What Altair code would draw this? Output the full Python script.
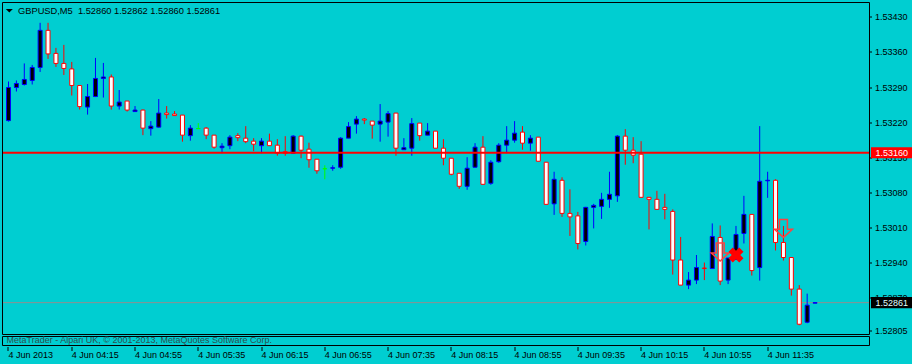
import altair as alt
import pandas as pd

# ---------------- data (GBPUSD M5, 4 Jun 2013, 03:35 .. 12:05) ----------------
bar_index = list(range(103))
opens = [1.53224, 1.53290, 1.53296, 1.53304, 1.53330, 1.53404, 1.53358, 1.53338, 1.53327, 1.53294,
         1.53251, 1.53272, 1.53308, 1.53311, 1.53253, 1.53263, 1.53242, 1.53245, 1.53208, 1.53211,
         1.53239, 1.53237, 1.53235, 1.53194, 1.53208, 1.53209, 1.53195, 1.53170, 1.53174, 1.53194,
         1.53189, 1.53183, 1.53174, 1.53183, 1.53175, 1.53162, 1.53159, 1.53193, 1.53167, 1.53147,
         1.53128, 1.53129, 1.53131, 1.53189, 1.53217, 1.53227, 1.53223, 1.53217, 1.53221, 1.53239,
         1.53166, 1.53169, 1.53219, 1.53195, 1.53203, 1.53169, 1.53149, 1.53119, 1.53093, 1.53131,
         1.53171, 1.53099, 1.53142, 1.53175, 1.53185, 1.53201, 1.53179, 1.53191, 1.53141, 1.53058,
         1.53105, 1.53039, 1.53034, 1.52983, 1.53051, 1.53053, 1.53067, 1.53074, 1.53193, 1.53165,
         1.53157, 1.53071, 1.53067, 1.53051, 1.53043, 1.52946, 1.52896, 1.52906, 1.52930, 1.52929,
         1.52991, 1.52906, 1.52947, 1.52999, 1.53037, 1.52931, 1.53104, 1.53105, 1.52981, 1.52951,
         1.52888, 1.52822, 1.52860]
highs = [1.53302, 1.53304, 1.53338, 1.53335, 1.53419, 1.53419, 1.53369, 1.53375, 1.53341, 1.53295,
         1.53297, 1.53349, 1.53339, 1.53316, 1.53285, 1.53263, 1.53253, 1.53246, 1.53223, 1.53267,
         1.53253, 1.53243, 1.53235, 1.53215, 1.53219, 1.53211, 1.53195, 1.53179, 1.53195, 1.53199,
         1.53213, 1.53189, 1.53189, 1.53198, 1.53187, 1.53193, 1.53195, 1.53194, 1.53180, 1.53147,
         1.53135, 1.53135, 1.53191, 1.53221, 1.53233, 1.53229, 1.53223, 1.53257, 1.53243, 1.53239,
         1.53189, 1.53229, 1.53219, 1.53219, 1.53203, 1.53187, 1.53149, 1.53119, 1.53151, 1.53179,
         1.53193, 1.53145, 1.53179, 1.53213, 1.53223, 1.53213, 1.53195, 1.53191, 1.53141, 1.53122,
         1.53111, 1.53087, 1.53042, 1.53052, 1.53058, 1.53080, 1.53122, 1.53195, 1.53207, 1.53191,
         1.53183, 1.53071, 1.53084, 1.53078, 1.53047, 1.52992, 1.52922, 1.52956, 1.52941, 1.53019,
         1.53015, 1.52950, 1.53014, 1.53074, 1.53037, 1.53213, 1.53122, 1.53107, 1.53014, 1.52951,
         1.52896, 1.52879, 1.52862]
lows = [1.53222, 1.53282, 1.53294, 1.53296, 1.53321, 1.53347, 1.53331, 1.53315, 1.53274, 1.53246,
        1.53236, 1.53271, 1.53270, 1.53246, 1.53246, 1.53242, 1.53242, 1.53195, 1.53194, 1.53210,
        1.53228, 1.53234, 1.53182, 1.53184, 1.53208, 1.53187, 1.53168, 1.53159, 1.53167, 1.53183,
        1.53179, 1.53163, 1.53159, 1.53174, 1.53154, 1.53154, 1.53158, 1.53149, 1.53130, 1.53118,
        1.53107, 1.53124, 1.53128, 1.53189, 1.53198, 1.53217, 1.53188, 1.53182, 1.53192, 1.53154,
        1.53166, 1.53154, 1.53184, 1.53195, 1.53169, 1.53135, 1.53115, 1.53088, 1.53086, 1.53130,
        1.53097, 1.53096, 1.53140, 1.53159, 1.53180, 1.53166, 1.53164, 1.53143, 1.53057, 1.53036,
        1.53032, 1.52994, 1.52967, 1.52975, 1.53009, 1.53028, 1.53050, 1.53062, 1.53136, 1.53139,
        1.53071, 1.53007, 1.53047, 1.53027, 1.52917, 1.52896, 1.52888, 1.52898, 1.52906, 1.52929,
        1.52896, 1.52898, 1.52946, 1.52979, 1.52915, 1.52905, 1.53070, 1.52965, 1.52945, 1.52875,
        1.52816, 1.52820, 1.52860]
closes = [1.53290, 1.53298, 1.53306, 1.53330, 1.53404, 1.53357, 1.53338, 1.53328, 1.53294, 1.53252,
          1.53272, 1.53308, 1.53311, 1.53253, 1.53261, 1.53245, 1.53245, 1.53209, 1.53213, 1.53239,
          1.53236, 1.53234, 1.53195, 1.53209, 1.53208, 1.53195, 1.53171, 1.53173, 1.53191, 1.53190,
          1.53182, 1.53177, 1.53183, 1.53174, 1.53159, 1.53159, 1.53193, 1.53165, 1.53146, 1.53124,
          1.53128, 1.53130, 1.53189, 1.53212, 1.53227, 1.53225, 1.53215, 1.53223, 1.53238, 1.53169,
          1.53170, 1.53218, 1.53194, 1.53203, 1.53169, 1.53149, 1.53117, 1.53093, 1.53129, 1.53171,
          1.53097, 1.53141, 1.53175, 1.53185, 1.53199, 1.53179, 1.53189, 1.53143, 1.53057, 1.53107,
          1.53039, 1.53032, 1.52979, 1.53051, 1.53055, 1.53067, 1.53077, 1.53193, 1.53165, 1.53155,
          1.53071, 1.53067, 1.53047, 1.53047, 1.52946, 1.52896, 1.52906, 1.52931, 1.52929, 1.52993,
          1.52904, 1.52950, 1.52997, 1.53037, 1.52925, 1.53103, 1.53105, 1.52981, 1.52951, 1.52888,
          1.52818, 1.52856, 1.52861]

tick_bars = [0, 8, 16, 24, 32, 40, 48, 56, 64, 72, 80, 88, 96]
tick_labels = ["4 Jun 2013", "4 Jun 04:15", "4 Jun 04:55", "4 Jun 05:35", "4 Jun 06:15",
               "4 Jun 06:55", "4 Jun 07:35", "4 Jun 08:15", "4 Jun 08:55", "4 Jun 09:35",
               "4 Jun 10:15", "4 Jun 10:55", "4 Jun 11:35"]
price_ticks = [1.53430, 1.53360, 1.53290, 1.53220, 1.53150, 1.53080, 1.53010, 1.52940, 1.52870, 1.52805]

level_price = 1.53160
last_price = 1.52861
sell_bars = [90, 98]
sell_prices = [1.52962, 1.53009]
close_bars = [92]
close_prices = [1.52956]

symbol = "GBPUSD,M5"
footer = "MetaTrader - Alpari UK, \u00a9 2001-2013, MetaQuotes Software Corp."

# ---------------- build ----------------
FONT = "Liberation Sans"
BG = "#00CED1"
W, H = 866, 331

candles = pd.DataFrame({"i": bar_index, "open": opens, "high": highs, "low": lows, "close": closes})
candles["dir"] = ["up" if c > o else ("down" if c < o else "doji") for o, c in zip(opens, closes)]

xs = alt.Scale(domain=[-0.0625, 108.1875], nice=False, zero=False)
ys = alt.Scale(domain=[1.527985, 1.534585], nice=False, zero=False)
dirs = ["up", "down", "doji"]
line_cols = alt.Scale(domain=dirs, range=["#0000FF", "#FF0000", "#00FF00"])
fill_cols = alt.Scale(domain=dirs, range=["#000000", "#FFFFFF", "#00FF00"])

label_expr = ("[" + ",".join("'%s'" % t for t in tick_labels) + "][indexof(["
              + ",".join(str(b) for b in tick_bars) + "], datum.value)]")

x_axis = alt.Axis(values=tick_bars, labelExpr=label_expr, orient="bottom", offset=13,
                  tickSize=4, tickColor="black", tickWidth=1, domain=False, grid=False,
                  labelAlign="left", labelBaseline="top", labelPadding=0, labelFont=FONT,
                  labelFontSize=9, labelColor="black", labelFlush=False, labelOverlap=False,
                  title=None, translate=0)
y_axis = alt.Axis(orient="right", values=price_ticks, format=".5f", tickSize=3, tickColor="black",
                  domain=False, grid=False, labelAlign="left", labelBaseline="middle",
                  labelPadding=3, labelFont=FONT, labelFontSize=9, labelColor="black",
                  labelOverlap=False, labelFlush=False, title=None, translate=0)


def X(field):
    return alt.X(field, scale=xs, axis=x_axis)


def Y(field):
    return alt.Y(field, scale=ys, axis=y_axis)


base = alt.Chart(candles)

wicks = base.mark_rule(strokeWidth=1).encode(
    x=X("i:Q"), y=Y("low:Q"), y2="high:Q",
    color=alt.Color("dir:N", scale=line_cols, legend=None),
)

bodies = base.mark_bar(size=4, strokeWidth=1).encode(
    x=X("i:Q"), y=Y("open:Q"), y2="close:Q",
    fill=alt.Fill("dir:N", scale=fill_cols, legend=None),
    stroke=alt.Stroke("dir:N", scale=line_cols, legend=None),
)

last_df = pd.DataFrame({"price": [last_price], "label": ["%.5f" % last_price]})
level_df = pd.DataFrame({"price": [level_price], "label": ["%.5f" % level_price]})

last_line = alt.Chart(last_df).mark_rule(color="#909090", strokeWidth=1).encode(y=Y("price:Q"))
level_line = alt.Chart(level_df).mark_rule(color="#FF0000", strokeWidth=2).encode(y=Y("price:Q"))

arrow_path = "M -0.44 -1 L 0.44 -1 L 0.44 0.1 L 1 0.1 L 0 1 L -1 0.1 L -0.44 0.1 Z"
sells = alt.Chart(pd.DataFrame({"i": sell_bars, "price": sell_prices})).mark_point(
    shape=arrow_path, size=324, filled=False, stroke="#FF4040", strokeWidth=1.5, opacity=1
).encode(x=X("i:Q"), y=Y("price:Q"))

closes_mk = alt.Chart(pd.DataFrame({"i": close_bars, "price": close_prices})).mark_point(
    shape="cross", angle=45, size=230, filled=True, color="#FF0000", opacity=1
).encode(x=X("i:Q"), y=Y("price:Q"))

box_path = "M -1 -0.27 L 1 -0.27 L 1 0.27 L -1 0.27 Z"
red_box = alt.Chart(level_df).mark_point(
    shape=box_path, size=1681, filled=True, color="#FF0000", opacity=1, strokeWidth=0
).encode(x=alt.value(888.5), y=Y("price:Q"))
red_txt = alt.Chart(level_df).mark_text(
    align="left", baseline="middle", font=FONT, fontSize=9, color="#FFFFFF"
).encode(x=alt.value(872.5), y=Y("price:Q"), text="label:N")
blk_box = alt.Chart(last_df).mark_point(
    shape=box_path, size=1681, filled=True, color="#000000", opacity=1, strokeWidth=0
).encode(x=alt.value(888.5), y=Y("price:Q"))
blk_txt = alt.Chart(last_df).mark_text(
    align="left", baseline="middle", font=FONT, fontSize=9, color="#E0FFFF"
).encode(x=alt.value(872.5), y=Y("price:Q"), text="label:N")

one = pd.DataFrame({"t": [footer]})
frame = alt.Chart(one).mark_rect(fillOpacity=0, stroke="black", strokeWidth=1).encode(
    x=alt.value(-0.5), x2=alt.value(W + 0.5), y=alt.value(-0.5), y2=alt.value(H + 0.5))
footer_box = alt.Chart(one).mark_rect(fillOpacity=0, stroke="black", strokeWidth=1).encode(
    x=alt.value(-0.5), x2=alt.value(W + 0.5), y=alt.value(H + 2.5), y2=alt.value(H + 11.5))
footer_txt = alt.Chart(one).mark_text(
    align="left", baseline="alphabetic", font=FONT, fontSize=9, color="#2F4F4F"
).encode(x=alt.value(3.6), y=alt.value(H + 8.7), text="t:N")

title_str = "%s\u00a0\u00a0%.5f %.5f %.5f %.5f" % (symbol, opens[-1], highs[-1], lows[-1], closes[-1])
title_df = pd.DataFrame({"t": [title_str]})
tri = alt.Chart(title_df).mark_point(
    shape="M -1 -0.5 L 1 -0.5 L 0 0.5 Z", size=49, filled=True, color="#000000", opacity=1
).encode(x=alt.value(6.3), y=alt.value(7.7))
title_txt = alt.Chart(title_df).mark_text(
    align="left", baseline="alphabetic", font=FONT, fontSize=9.3, color="#000000"
).encode(x=alt.value(15), y=alt.value(11), text="t:N")

chart = alt.layer(
    last_line, wicks, bodies, level_line, sells, closes_mk,
    red_box, red_txt, blk_box, blk_txt, frame, footer_box, footer_txt, tri, title_txt
).properties(
    width=W, height=H,
    padding={"left": 3, "top": 3, "right": 43, "bottom": 30},
    autosize=alt.AutoSizeParams(type="none"),
    background=BG,
).configure_view(stroke="transparent", fill=BG)

chart.save("out.html", embed_options={"renderer": "svg", "actions": False})
